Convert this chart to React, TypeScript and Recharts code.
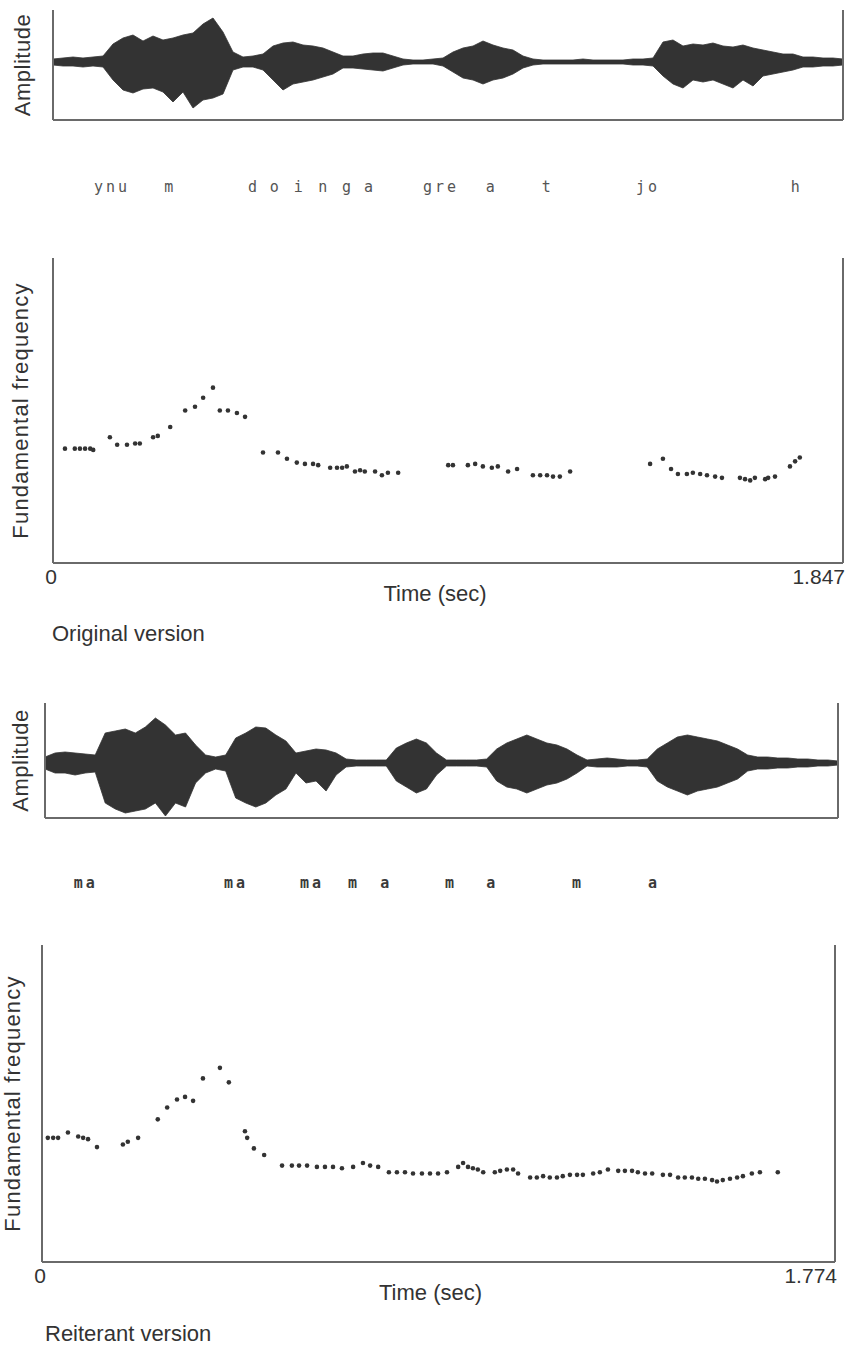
import {
  AreaChart,
  Area,
  ScatterChart,
  Scatter,
  XAxis,
  YAxis,
  ReferenceLine,
} from "recharts";

const FONT = '"Liberation Sans", Arial, Helvetica, sans-serif';
const AXIS = "#6a6a6a";
const INK = "#333";

// amplitude envelopes (upper / lower extent, arbitrary units), one sample per step
const origWaveUp = [
  3, 4, 5, 4, 5, 6, 18, 24, 27, 21, 26, 22, 24, 27, 29, 38, 44, 30, 10, 5,
  6, 8, 16, 19, 20, 17, 16, 14, 10, 6, 6, 8, 9, 9, 6, 3, 2, 2, 3, 4,
  10, 14, 16, 21, 17, 14, 12, 6, 3, 2, 2, 2, 2, 3, 2, 2, 2, 2, 3, 3,
  4, 20, 22, 16, 18, 17, 19, 16, 15, 17, 14, 12, 10, 8, 8, 5, 5, 4, 4, 3,
];
const origWaveDown = [
  3, 4, 4, 5, 4, 5, 18, 28, 31, 27, 26, 30, 40, 30, 46, 38, 36, 32, 8, 5,
  5, 8, 18, 28, 22, 20, 18, 15, 12, 6, 6, 7, 8, 9, 6, 3, 2, 2, 2, 4,
  10, 16, 18, 22, 18, 16, 12, 6, 3, 2, 2, 2, 2, 2, 2, 2, 2, 2, 3, 3,
  4, 14, 22, 26, 18, 20, 18, 22, 26, 18, 24, 14, 12, 10, 8, 5, 5, 4, 4, 3,
];
const reitWaveUp = [
  6, 10, 11, 10, 9, 8, 30, 32, 34, 30, 36, 45, 38, 28, 30, 18, 8, 6, 8, 25,
  30, 36, 35, 28, 22, 10, 12, 14, 13, 10, 4, 3, 3, 3, 3, 15, 20, 24, 20, 10,
  3, 3, 3, 3, 4, 14, 20, 24, 28, 24, 20, 18, 14, 8, 3, 4, 5, 4, 3, 3,
  4, 14, 20, 26, 28, 26, 24, 22, 18, 14, 8, 6, 6, 5, 5, 4, 4, 3, 3, 2,
];
const reitWaveDown = [
  6, 10, 10, 12, 10, 9, 40, 46, 50, 48, 46, 40, 53, 40, 44, 20, 10, 6, 8, 35,
  40, 44, 40, 32, 26, 10, 20, 18, 28, 12, 4, 3, 3, 3, 3, 18, 24, 30, 26, 12,
  3, 3, 3, 3, 4, 18, 24, 26, 30, 26, 22, 20, 16, 10, 3, 4, 4, 4, 3, 3,
  4, 18, 24, 28, 32, 28, 26, 24, 20, 16, 8, 6, 6, 5, 5, 4, 4, 3, 3, 2,
];

// segment labels and their times (sec)
const origSegments = ["ynu", "m", "d", "o", "i", "n", "g", "a", "gre", "a", "t", "jo", "h"];
const origSegTimes = [0.138, 0.274, 0.47, 0.521, 0.577, 0.634, 0.69, 0.741, 0.907, 1.026, 1.157, 1.391, 1.739];
const reitSegments = ["ma", "ma", "ma", "m", "a", "m", "a", "m", "a"];
const reitSegTimes = [0.098, 0.434, 0.604, 0.698, 0.77, 0.915, 1.007, 1.199, 1.369];

// fundamental frequency tracks
const origDuration = 1.847;
const origF0Time = [
  0.028, 0.051, 0.063, 0.075, 0.087, 0.094, 0.133, 0.15, 0.173, 0.192,
  0.203, 0.234, 0.245, 0.274, 0.309, 0.332, 0.351, 0.374, 0.39, 0.409,
  0.43, 0.449, 0.491, 0.526, 0.547, 0.57, 0.589, 0.608, 0.62, 0.648,
  0.664, 0.676, 0.687, 0.706, 0.718, 0.729, 0.753, 0.769, 0.783, 0.807,
  0.924, 0.935, 0.97, 0.987, 1.005, 1.026, 1.04, 1.064, 1.085, 1.122,
  1.139, 1.155, 1.169, 1.185, 1.209, 1.396, 1.426, 1.445, 1.461, 1.482,
  1.496, 1.513, 1.529, 1.548, 1.564, 1.606, 1.618, 1.63, 1.641, 1.665,
  1.672, 1.688, 1.723, 1.735, 1.746,
];
const origF0Hz = [
  150, 150, 150, 150, 150, 149, 159, 153, 153, 154,
  154, 159, 160, 167, 180, 183, 190, 198, 180, 180,
  178, 175, 147, 147, 142, 139, 138, 138, 137, 135,
  135, 135, 136, 132, 133, 132, 132, 129, 131, 131,
  137, 137, 137, 138, 136, 135, 136, 132, 134, 129,
  129, 129, 128, 128, 132, 138, 142, 134, 130, 130,
  131, 130, 129, 128, 127, 127, 126, 125, 127, 126,
  127, 128, 136, 140, 143,
];

const reitDuration = 1.774;
const reitF0Time = [
  0.013, 0.025, 0.036, 0.058, 0.081, 0.092, 0.103, 0.123, 0.181, 0.192,
  0.215, 0.259, 0.28, 0.302, 0.32, 0.338, 0.36, 0.398, 0.418, 0.454,
  0.459, 0.474, 0.497, 0.537, 0.559, 0.575, 0.593, 0.615, 0.633, 0.651,
  0.671, 0.696, 0.718, 0.734, 0.752, 0.776, 0.794, 0.812, 0.83, 0.85,
  0.868, 0.886, 0.906, 0.931, 0.942, 0.953, 0.964, 0.975, 0.987,
  1.013, 1.025, 1.04, 1.054, 1.065, 1.092, 1.107, 1.121, 1.136, 1.152,
  1.165, 1.181, 1.197, 1.21, 1.233, 1.248, 1.266, 1.289, 1.304, 1.32,
  1.333, 1.349, 1.365, 1.389, 1.405, 1.423, 1.438, 1.454, 1.468, 1.483,
  1.499, 1.51, 1.523, 1.539, 1.555, 1.568, 1.588, 1.606, 1.646,
];
const reitF0Hz = [
  154, 154, 154, 158, 155, 154, 153, 147, 149, 151,
  154, 168, 177, 183, 185, 182, 199, 207, 196, 159,
  154, 146, 141, 133, 133, 133, 133, 132, 132, 132,
  131, 132, 135, 133, 132, 128, 128, 128, 127, 127,
  127, 127, 128, 132, 135, 132, 131, 130, 128,
  128, 129, 130, 130, 127, 124, 124, 125, 124, 124,
  125, 126, 126, 126, 127, 128, 130, 129, 129, 129,
  128, 127, 127, 126, 126, 124, 124, 124, 123, 123,
  122, 121, 122, 123, 124, 125, 127, 128, 128,
];

const axisLine = { stroke: AXIS, strokeWidth: 2 };
const labelStyle = { textAnchor: "middle" as const, fill: INK, fontSize: 22, fontFamily: FONT };

function WaveChart({ up, down, top, height, left, right, domain, labelOffset }: any) {
  const data = up.map((u: number, i: number) => ({ n: i, amp: [-down[i], u] }));
  return (
    <div style={{ position: "absolute", left: 0, top }}>
      <AreaChart width={847} height={height} data={data} margin={{ top: 10, right, bottom: 0, left: 0 }}>
        <XAxis dataKey="n" tick={false} tickLine={false} height={10} axisLine={axisLine} />
        <YAxis
          type="number"
          domain={domain}
          allowDataOverflow
          width={left}
          tick={false}
          tickLine={false}
          axisLine={axisLine}
          label={{
            value: "Amplitude",
            angle: -90,
            position: "insideLeft",
            offset: labelOffset,
            style: { ...labelStyle, letterSpacing: 0.5 },
          }}
        />
        <ReferenceLine x={up.length - 1} stroke={AXIS} strokeWidth={2} />
        <Area
          dataKey="amp"
          type="linear"
          fill="#333"
          fillOpacity={1}
          stroke="#333"
          strokeWidth={0.8}
          isAnimationActive={false}
        />
      </AreaChart>
    </div>
  );
}

function SegmentRow({ labels, times, duration, top, left, right, bold }: any) {
  const data = labels.map((s: string, i: number) => ({ t: times[i], y: 0.5, s }));
  return (
    <div style={{ position: "absolute", left: 0, top }}>
      <ScatterChart width={847} height={30} margin={{ top: 0, right, bottom: 0, left }}>
        <XAxis type="number" dataKey="t" domain={[0, duration]} allowDataOverflow hide />
        <YAxis type="number" dataKey="y" domain={[0, 1]} allowDataOverflow hide />
        <Scatter
          data={data}
          isAnimationActive={false}
          shape={(p: any) => (
            <text
              x={p.cx}
              y={p.cy}
              textAnchor="middle"
              dominantBaseline="central"
              fontFamily='"DejaVu Sans Mono", monospace'
              fontSize={15}
              fontWeight={bold ? 700 : 400}
              fill={bold ? "#3a3a3a" : "#555"}
              letterSpacing={3}
            >
              {p.payload.s}
            </text>
          )}
        />
      </ScatterChart>
    </div>
  );
}

function PitchChart({ times, hz, duration, top, marginTop, height, left, right, labelOffset, timeShift }: any) {
  const data = times.map((t: number, i: number) => ({ t, f0: hz[i] }));
  const tick = (p: any) => {
    const last = p.payload.value === duration;
    return (
      <text
        x={last ? p.x + 2 : p.x - 2}
        y={p.y}
        dy={21}
        textAnchor={last ? "end" : "middle"}
        fill={INK}
        fontSize={21}
        fontFamily={FONT}
      >
        {last ? duration.toFixed(3) : "0"}
      </text>
    );
  };
  return (
    <div style={{ position: "absolute", left: 0, top }}>
      <ScatterChart width={847} height={height} margin={{ top: marginTop, right, bottom: 0, left: 0 }}>
        <XAxis
          type="number"
          dataKey="t"
          domain={[0, duration]}
          allowDataOverflow
          ticks={[0, duration]}
          interval={0}
          tick={tick}
          tickLine={false}
          tickSize={0}
          tickMargin={0}
          height={45}
          axisLine={axisLine}
          label={{ value: "Time (sec)", position: "insideBottom", offset: 7, dx: timeShift, style: labelStyle }}
        />
        <YAxis
          type="number"
          dataKey="f0"
          domain={[60, 300]}
          allowDataOverflow
          width={left}
          tick={false}
          tickLine={false}
          axisLine={axisLine}
          label={{
            value: "Fundamental frequency",
            angle: -90,
            position: "insideLeft",
            offset: labelOffset,
            style: { ...labelStyle, letterSpacing: 1.2 },
          }}
        />
        <ReferenceLine x={duration} stroke={AXIS} strokeWidth={2} />
        <Scatter
          data={data}
          isAnimationActive={false}
          shape={(p: any) => <circle cx={p.cx} cy={p.cy} r={2.3} fill="#333" />}
        />
      </ScatterChart>
    </div>
  );
}

const captionStyle = {
  position: "absolute" as const,
  fontFamily: FONT,
  fontSize: 22,
  color: INK,
  lineHeight: "26px",
};

export default function App() {
  return (
    <div style={{ position: "relative", width: 847, height: 1349, background: "#fff", fontFamily: FONT }}>
      <style>{"body{margin:0}"}</style>

      <WaveChart up={origWaveUp} down={origWaveDown} top={0} height={130} left={53} right={4} domain={[-58, 52]} labelOffset={22} />
      <SegmentRow labels={origSegments} times={origSegTimes} duration={origDuration} top={172} left={53} right={4} />
      <PitchChart
        times={origF0Time}
        hz={origF0Hz}
        duration={origDuration}
        top={240}
        marginTop={18}
        height={368}
        left={53}
        right={4}
        labelOffset={20}
        timeShift={-13}
      />
      <div style={{ ...captionStyle, left: 52, top: 621 }}>Original version</div>

      <WaveChart up={reitWaveUp} down={reitWaveDown} top={693} height={135} left={45} right={9} domain={[-55, 60]} labelOffset={20} />
      <SegmentRow labels={reitSegments} times={reitSegTimes} duration={reitDuration} top={868} left={42} right={12} bold />
      <PitchChart
        times={reitF0Time}
        hz={reitF0Hz}
        duration={reitDuration}
        top={930}
        marginTop={15}
        height={377}
        left={42}
        right={12}
        labelOffset={12}
        timeShift={-8}
      />
      <div style={{ ...captionStyle, left: 45, top: 1321 }}>Reiterant version</div>
    </div>
  );
}
